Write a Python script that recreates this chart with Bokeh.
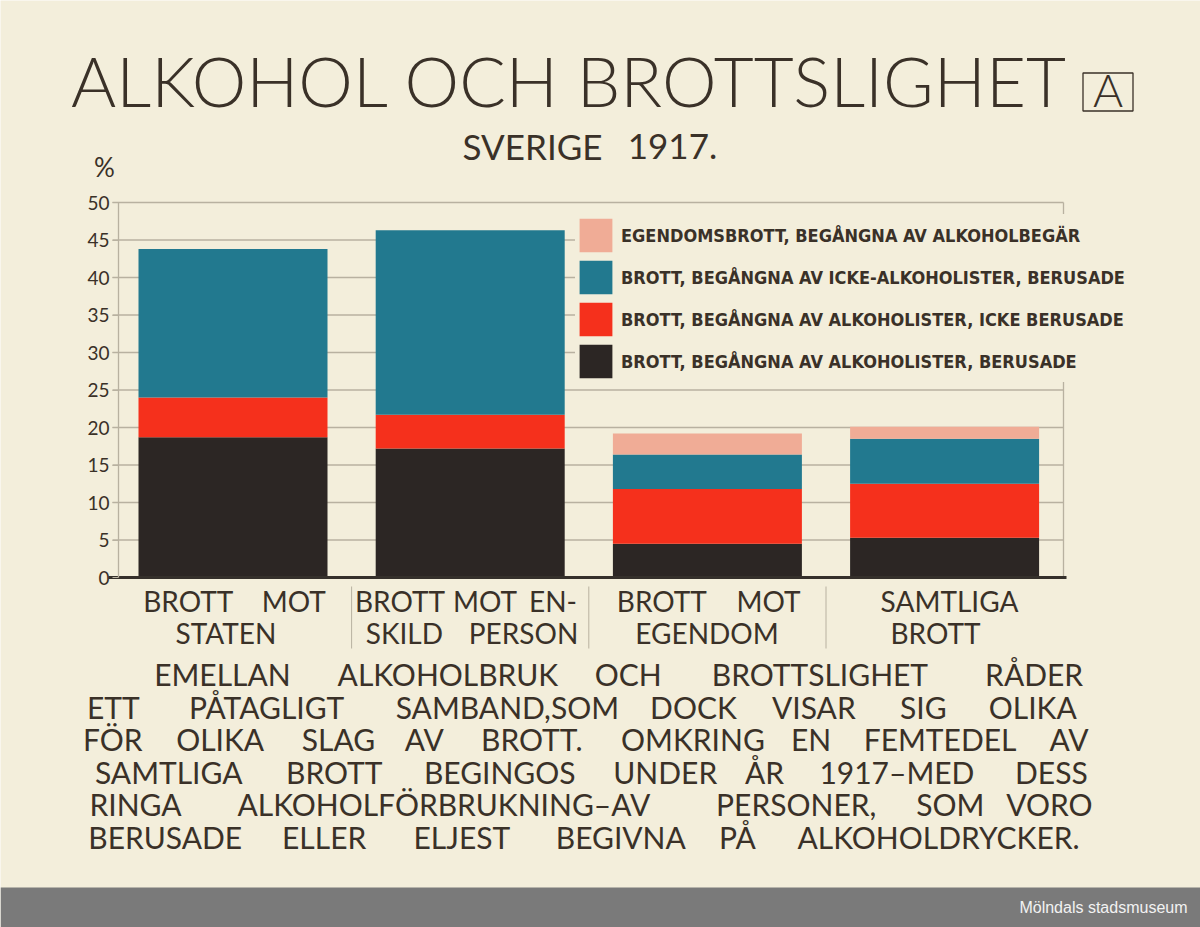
from bokeh.plotting import figure
from bokeh.models import Range1d, LinearAxis, FixedTicker, Legend, LegendItem, ColumnDataSource
from bokeh.core.properties import value
from bokeh.embed import file_html
from bokeh.resources import INLINE

# ---------------- data ----------------
CATEGORIES = ["BROTT MOT STATEN", "BROTT MOT ENSKILD PERSON", "BROTT MOT EGENDOM", "SAMTLIGA BROTT"]
CAT_LINE1 = ["BROTT MOT", "BROTT MOT EN-", "BROTT MOT", "SAMTLIGA"]
CAT_LINE2 = ["STATEN", "SKILD PERSON", "EGENDOM", "BROTT"]

# percent of crimes (stacked, bottom -> top)
ALK_BERUSADE = [18.7, 17.2, 4.5, 5.3]          # black
ALK_ICKE_BERUSADE = [5.3, 4.5, 7.3, 7.2]       # red
ICKEALK_BERUSADE = [19.8, 24.6, 4.6, 6.0]      # teal
EGENDOM_ALKBEGAR = [0.0, 0.0, 2.8, 1.6]        # pink

SERIES_KEYS = ["alk_ber", "alk_icke", "ickealk_ber", "egendom"]
SERIES_LABELS = [
    "BROTT, BEGÅNGNA AV ALKOHOLISTER, BERUSADE",
    "BROTT, BEGÅNGNA AV ALKOHOLISTER, ICKE BERUSADE",
    "BROTT, BEGÅNGNA AV ICKE-ALKOHOLISTER, BERUSADE",
    "EGENDOMSBROTT, BEGÅNGNA AV ALKOHOLBEGÄR",
]
Y_TICKS = [0, 5, 10, 15, 20, 25, 30, 35, 40, 45, 50]

TITLE = "ALKOHOL OCH BROTTSLIGHET"
TITLE_BOX = "A"
SUBTITLE = "SVERIGE 1917."
Y_UNIT = "%"
PARAGRAPH = [
    "EMELLAN ALKOHOLBRUK OCH BROTTSLIGHET RÅDER",
    "ETT PÅTAGLIGT SAMBAND,SOM DOCK VISAR SIG OLIKA",
    "FÖR OLIKA SLAG AV BROTT. OMKRING EN FEMTEDEL AV",
    "SAMTLIGA BROTT BEGINGOS UNDER ÅR 1917–MED DESS",
    "RINGA ALKOHOLFÖRBRUKNING–AV PERSONER, SOM VORO",
    "BERUSADE ELLER ELJEST BEGIVNA PÅ ALKOHOLDRYCKER.",
]
CREDIT = "Mölndals stadsmuseum"

# ---------------- styles / layout ----------------
BG = "#f3eedb"
TXT = "#3a3128"
GRID = "#b8b1a0"
COLORS = ["#2c2624", "#f5301c", "#22798f", "#f0ac96"]
FONT = "Lato"
LIGHT = "'Lato Light', Lato"
LEG_FONT = "'DejaVu Sans Condensed', 'Liberation Sans Narrow', Roboto, sans-serif"

W, H = 1200, 927
X0PX, XSTEP = 232.5, 237.2     # pixel centre of first category, pixels per category
Y0PX, YSCALE = 577.0, 7.5      # pixel of value 0, pixels per percent


def xd(px):
    return (px - X0PX) / XSTEP


def yd(py):
    return (Y0PX - py) / YSCALE


def base(py, fs):
    # baseline pixel -> data y for an alphabetic text glyph of font size fs
    return yd(py - 0.41 * fs)


def spread(line, lpx, rpx, py, fs):
    pitch = (rpx - lpx) / len(line)
    xs, ys, ts = [], [], []
    pos = 0
    for word in line.split(" "):
        xs.append(xd(lpx + pitch * (pos + len(word) / 2)))
        ys.append(base(py, fs))
        ts.append(word)
        pos += len(word) + 1
    return xs, ys, ts


p = figure(width=W, height=H, x_range=Range1d(xd(0), xd(W)), y_range=Range1d(yd(H), yd(0)),
           x_axis_type=None, y_axis_type=None, toolbar_location=None, output_backend="svg",
           min_border=0, outline_line_color=None, background_fill_color=BG, border_fill_color=BG)

# bottom credit band
p.quad(left=[xd(0)], right=[xd(W)], top=[yd(887)], bottom=[yd(H)], fill_color="#7a7a7a", line_color=None)
p.text(x=[xd(1187)], y=[yd(907)], text=[CREDIT], text_align="right", text_baseline="middle",
       text_font=value("Liberation Sans"), text_font_size="16px", text_color="#f2f2f2")

# grid lines
p.segment(x0=xd(112), y0=Y_TICKS[1:], x1=xd(1063), y1=Y_TICKS[1:], line_color=GRID, line_width=1.3)
p.segment(x0=[xd(1063)], y0=[0], x1=[xd(1063)], y1=[50], line_color=GRID, line_width=1.3)

# bars
src = ColumnDataSource(dict(x=list(range(len(CATEGORIES))), cat=CATEGORIES,
                            alk_ber=ALK_BERUSADE, alk_icke=ALK_ICKE_BERUSADE,
                            ickealk_ber=ICKEALK_BERUSADE, egendom=EGENDOM_ALKBEGAR))
renderers = p.vbar_stack(SERIES_KEYS, x="x", width=189 / XSTEP, color=COLORS, line_color=None, source=src)

# axes
yaxis = LinearAxis(fixed_location=xd(118), bounds=(0, 50), ticker=FixedTicker(ticks=Y_TICKS),
                   major_tick_out=6, major_tick_in=0, minor_tick_line_color=None,
                   axis_line_color=GRID, axis_line_width=1.3, major_tick_line_color=GRID,
                   major_label_text_font=FONT, major_label_text_font_size="19px",
                   major_label_text_color=TXT, major_label_standoff=3)
p.add_layout(yaxis, "left")
xaxis = LinearAxis(fixed_location=0, bounds=(xd(108), xd(1066)), ticker=FixedTicker(ticks=[]),
                   axis_line_color="#35302b", axis_line_width=3, major_tick_line_color=None,
                   minor_tick_line_color=None, major_label_text_font_size="0px")
p.add_layout(xaxis, "below")

# category labels and separators
CAT1_BOUNDS = [(135, 325), (357, 578), (608, 800), (873, 1025)]
CAT2_BOUNDS = [(168, 283), (358, 578), (638, 775), (898, 972)]
cx, cy, ct = [], [], []
for lines, bounds, py in ((CAT_LINE1, CAT1_BOUNDS, 612), (CAT_LINE2, CAT2_BOUNDS, 644)):
    for line, (l, r) in zip(lines, bounds):
        a, b, c = spread(line, l, r, py, 28)
        cx += a
        cy += b
        ct += c
p.text(x=cx, y=cy, text=ct, text_align="center", text_baseline="alphabetic",
       text_font=value(FONT), text_font_size="28px", text_color=TXT)
xs = list(range(len(CATEGORIES)))
p.segment(x0=[i + 0.5 for i in xs[:-1]], y0=yd(586), x1=[i + 0.5 for i in xs[:-1]], y1=yd(648),
          line_color=GRID, line_width=1)

# titles
p.text(x=[xd(569)], y=[base(108, 69)], text=[TITLE], text_align="center", text_baseline="alphabetic",
       text_font=value(LIGHT), text_font_size="69px", text_color=TXT)
p.text(x=[xd(1107.5)], y=[base(108, 46)], text=[TITLE_BOX], text_align="center", text_baseline="alphabetic",
       text_font=value(LIGHT), text_font_size="46px", text_color=TXT)
p.rect(x=[xd(1107.5)], y=[yd(91.5)], width=50 / XSTEP, height=38 / YSCALE, fill_color=None,
       line_color=TXT, line_width=1.3)
sx, sy, st = spread(SUBTITLE, 462, 722, 160, 35)
p.text(x=sx, y=sy, text=st, text_align="center", text_baseline="alphabetic",
       text_font=value(FONT), text_font_size="35px", text_color=TXT)
p.text(x=[xd(104)], y=[base(177, 26)], text=[Y_UNIT], text_align="center", text_baseline="alphabetic",
       text_font=value(FONT), text_font_size="26px", text_color=TXT)

# paragraph: words spread over each line (letter-spaced look)
line_bounds = [(143, 1090), (80, 1087), (80, 1090), (80, 1095), (80, 1093), (80, 1097)]
wx, wy, wt = [], [], []
for i, (line, (lpx, rpx)) in enumerate(zip(PARAGRAPH, line_bounds)):
    a, b, c = spread(line, lpx, rpx, 686 + 32.5 * i, 30)
    wx += a
    wy += b
    wt += c
p.text(x=wx, y=wy, text=wt, text_align="center", text_baseline="alphabetic",
       text_font=value(FONT), text_font_size="30px", text_color=TXT)

# legend
items = [LegendItem(label=SERIES_LABELS[k], renderers=[renderers[k]]) for k in (3, 2, 1, 0)]
legend = Legend(items=items, location=(575, 545), orientation="vertical", glyph_width=41, glyph_height=42,
                spacing=0, padding=6, margin=0, label_standoff=5, label_text_font=LEG_FONT,
                label_text_font_size="18px", label_text_font_style="bold", label_text_color=TXT,
                background_fill_color=BG, background_fill_alpha=1.0, border_line_color=None)
p.add_layout(legend)

open("out.html", "w").write(file_html(p, INLINE))
